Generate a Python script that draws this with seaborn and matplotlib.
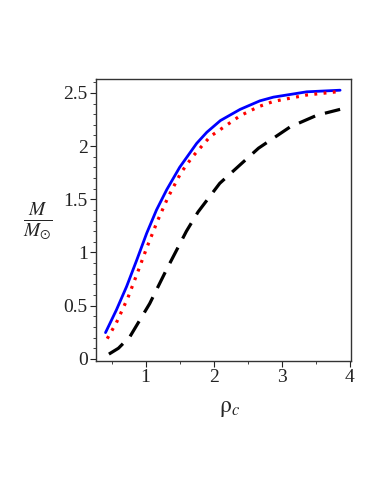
import numpy as np
import pandas as pd
import matplotlib
matplotlib.use("Agg")
import matplotlib.pyplot as plt
import seaborn as sns
from matplotlib.ticker import MultipleLocator

# Data
blue_x = [0.41, 0.57, 0.72, 0.87, 1.015, 1.16, 1.31, 1.5, 1.75, 1.9, 2.1, 2.39, 2.68, 2.88, 3.37, 3.86]
blue_y = [0.247, 0.46, 0.68, 0.93, 1.18, 1.40, 1.59, 1.80, 2.025, 2.13, 2.24, 2.345, 2.425, 2.46, 2.51, 2.525]

red_x = [0.435, 0.57, 0.74, 0.88, 1.02, 1.17, 1.33, 1.52, 1.69, 1.95, 2.39, 2.66, 2.88, 3.37, 3.81]
red_y = [0.19, 0.34, 0.576, 0.81, 1.05, 1.29, 1.52, 1.75, 1.90, 2.09, 2.285, 2.37, 2.42, 2.48, 2.51]

black_x = [0.46, 0.6, 0.77, 1.06, 1.3, 1.6, 1.77, 2.09, 2.4, 2.66, 3.125, 3.52, 3.86]
black_y = [0.045, 0.10, 0.21, 0.52, 0.83, 1.20, 1.38, 1.65, 1.83, 1.98, 2.18, 2.29, 2.345]

x_ticks = [1, 2, 3, 4]
y_ticks = [0, 0.5, 1, 1.5, 2, 2.5]
y_ticklabels = ["0", "0.5", "1", "1.5", "2", "2.5"]

df = pd.concat([
    pd.DataFrame({"rho": blue_x, "M": blue_y, "s": "a"}),
    pd.DataFrame({"rho": red_x, "M": red_y, "s": "b"}),
    pd.DataFrame({"rho": black_x, "M": black_y, "s": "c"}),
])

sns.set_style("ticks")
plt.rcParams["font.family"] = ["Liberation Serif", "DejaVu Serif"]
plt.rcParams["mathtext.fontset"] = "stix"

fig = plt.figure(figsize=(3.82, 4.94), dpi=100)
ax = fig.add_axes([0.2513, 0.2692, 0.6675, 0.5708])

sns.lineplot(data=df[df.s == "a"], x="rho", y="M", ax=ax, color="#0000ff", lw=2.0, sort=False)
sns.lineplot(data=df[df.s == "b"], x="rho", y="M", ax=ax, color="#ff0000", lw=2.3,
             linestyle=(0, (0.9, 2.0)), sort=False)
sns.lineplot(data=df[df.s == "c"], x="rho", y="M", ax=ax, color="black", lw=2.3,
             linestyle=(0, (5.5, 3.2)), sort=False)

ax.set_xlim(0.27, 4.02)
ax.set_ylim(-0.02, 2.63)
ax.set_xticks(x_ticks)
ax.set_xticklabels([str(t) for t in x_ticks])
ax.set_yticks(y_ticks)
ax.set_yticklabels(y_ticklabels)
ax.xaxis.set_minor_locator(MultipleLocator(0.5))
ax.yaxis.set_minor_locator(MultipleLocator(0.1))
ax.tick_params(axis="both", which="major", length=4, width=0.8, labelsize=14, colors="#222222", pad=2)
ax.tick_params(axis="both", which="minor", length=2.5, width=0.6, colors="#222222")
for sp in ax.spines.values():
    sp.set_color("#333333")
    sp.set_linewidth(1.0)

ax.set_xlabel("")
ax.set_ylabel("")
fig.text(0.60, 0.173, r"$\mathrm{\rho}_{c}$", fontsize=17, ha="center", va="center")
fig.text(0.10, 0.55, r"$\frac{\,M\,}{M_{\odot}}$", fontsize=20, ha="center", va="center")

fig.savefig("out.png", dpi=100)
